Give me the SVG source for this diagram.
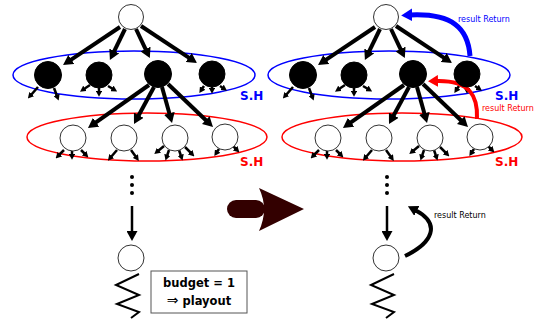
<svg xmlns="http://www.w3.org/2000/svg" width="534" height="327" viewBox="0 0 534 327">
<style>
.ell-b{fill:none;stroke:#0000ff;stroke-width:1.5}
.ell-r{fill:none;stroke:#ff0000;stroke-width:1.5}
.thick{stroke:#000;stroke-width:4;fill:none;marker-end:url(#ah)}
.thin{stroke:#000;stroke-width:2.5;fill:none;marker-end:url(#ahs)}
.wnode{fill:#fff;stroke:#333;stroke-width:1}
.bnode{fill:#000;stroke:#000;stroke-width:1}
.sh{font-family:"DejaVu Sans",Verdana,sans-serif;font-weight:bold;font-size:12px}
.rr{font-family:"DejaVu Sans",Verdana,sans-serif;font-size:8px}
.lbl{font-family:"DejaVu Sans",Verdana,sans-serif;font-weight:bold;font-size:11.5px;text-anchor:middle}
.zig{fill:none;stroke:#000;stroke-width:2}
</style>
<defs>
<marker id="ah" viewBox="0 0 10 10" refX="2" refY="5" markerWidth="10" markerHeight="11" markerUnits="userSpaceOnUse" orient="auto" preserveAspectRatio="none"><path d="M0,0 L10,5 L0,10 z" fill="#000"/></marker>
<marker id="ahs" viewBox="0 0 10 10" refX="2" refY="5" markerWidth="6" markerHeight="6.5" markerUnits="userSpaceOnUse" orient="auto" preserveAspectRatio="none"><path d="M0,0 L10,5 L0,10 z" fill="#000"/></marker>
<marker id="ahb" viewBox="0 0 10 10" refX="2" refY="5" markerWidth="11" markerHeight="13" markerUnits="userSpaceOnUse" orient="auto" preserveAspectRatio="none"><path d="M0,0 L10,5 L0,10 z" fill="#0000ff"/></marker>
<marker id="ahr" viewBox="0 0 10 10" refX="2" refY="5" markerWidth="10" markerHeight="12" markerUnits="userSpaceOnUse" orient="auto" preserveAspectRatio="none"><path d="M0,0 L10,5 L0,10 z" fill="#ff0000"/></marker>
</defs>

<g id="groups">
<ellipse class="ell-b" cx="134" cy="75" rx="121" ry="24"/>
<ellipse class="ell-r" cx="147" cy="137" rx="120" ry="24"/>
<ellipse class="ell-b" cx="389" cy="75" rx="121" ry="24"/>
<ellipse class="ell-r" cx="402" cy="137" rx="120" ry="24"/>
</g>

<g id="connectors">
<g id="conn-left">
<path class="thick" d="M120,27 L69.7,60.6"/>
<path class="thick" d="M125,29 L113.4,52.8"/>
<path class="thick" d="M136,29 L146.4,50.8"/>
<path class="thick" d="M141,26 L190.3,58.6"/>
<path class="thick" d="M149,85 L94.5,123.4"/>
<path class="thick" d="M154,87 L137.8,117"/>
<path class="thick" d="M162,87 L169.9,115.3"/>
<path class="thick" d="M168,84 L207.2,121.5"/>
<path class="thin" d="M38,87 L31,95"/>
<path class="thin" d="M54,88 L57,96"/>
<path class="thin" d="M90,85 L84,89"/>
<path class="thin" d="M99,88 L99,92"/>
<path class="thin" d="M108,86 L113,89"/>
<path class="thin" d="M204,86 L202,89"/>
<path class="thin" d="M212,87 L212,89"/>
<path class="thin" d="M220,86 L223,88"/>
<path class="thin" d="M64,150 L59,155"/>
<path class="thin" d="M72,151 L72,155"/>
<path class="thin" d="M81,150 L85,154"/>
<path class="thin" d="M117,150 L111,157"/>
<path class="thin" d="M131,150 L136,157"/>
<path class="thin" d="M164,146 L158,151"/>
<path class="thin" d="M169,150 L167,156"/>
<path class="thin" d="M179,150 L181,156"/>
<path class="thin" d="M185,147 L191,153"/>
<path class="thin" d="M219,149 L217,152"/>
<path class="thin" d="M233,146 L236,149"/>
<circle cx="132" cy="177" r="2"/>
<circle cx="132" cy="185" r="2"/>
<circle cx="132" cy="193" r="2"/>
<path d="M132,206 L132,233" stroke="#000" stroke-width="2.5" fill="none" marker-end="url(#ah)"/>
<path class="zig" d="M139,274 L116,285 L139,295 L117,304 L139,312 L131,318"/>
</g>
<g id="conn-right" transform="translate(255,0)">
<path class="thick" d="M120,27 L69.7,60.6"/>
<path class="thick" d="M125,29 L113.4,52.8"/>
<path class="thick" d="M136,29 L146.4,50.8"/>
<path class="thick" d="M141,26 L190.3,58.6"/>
<path class="thick" d="M149,85 L94.5,123.4"/>
<path class="thick" d="M154,87 L137.8,117"/>
<path class="thick" d="M162,87 L169.9,115.3"/>
<path class="thick" d="M168,84 L207.2,121.5"/>
<path class="thin" d="M38,87 L31,95"/>
<path class="thin" d="M54,88 L57,96"/>
<path class="thin" d="M90,85 L84,89"/>
<path class="thin" d="M99,88 L99,92"/>
<path class="thin" d="M108,86 L113,89"/>
<path class="thin" d="M204,86 L202,89"/>
<path class="thin" d="M212,87 L212,89"/>
<path class="thin" d="M220,86 L223,88"/>
<path class="thin" d="M64,150 L59,155"/>
<path class="thin" d="M72,151 L72,155"/>
<path class="thin" d="M81,150 L85,154"/>
<path class="thin" d="M117,150 L111,157"/>
<path class="thin" d="M131,150 L136,157"/>
<path class="thin" d="M164,146 L158,151"/>
<path class="thin" d="M169,150 L167,156"/>
<path class="thin" d="M179,150 L181,156"/>
<path class="thin" d="M185,147 L191,153"/>
<path class="thin" d="M219,149 L217,152"/>
<path class="thin" d="M233,146 L236,149"/>
<circle cx="132" cy="177" r="2"/>
<circle cx="132" cy="185" r="2"/>
<circle cx="132" cy="193" r="2"/>
<path d="M132,206 L132,233" stroke="#000" stroke-width="2.5" fill="none" marker-end="url(#ah)"/>
<path class="zig" d="M139,274 L116,285 L139,295 L117,304 L139,312 L131,318"/>
</g>
<path id="ret-blue" d="M470,56 C468,28 452,13 410,15" stroke="#0000ff" stroke-width="5" fill="none" marker-end="url(#ahb)"/>
<path id="ret-red" d="M477,119 C478,96 470,80 436,81" stroke="#ff0000" stroke-width="4" fill="none" marker-end="url(#ahr)"/>
<path id="ret-black" d="M405,256 C432,243 442,224 415,210" stroke="#000" stroke-width="4" fill="none" marker-end="url(#ah)"/>
</g>

<g id="nodes-left">
<g id="L-root"><circle class="wnode" cx="131" cy="17" r="12.5"/></g>
<g id="L-b1"><circle class="bnode" cx="48" cy="75" r="13.5"/></g>
<g id="L-b2"><circle class="bnode" cx="99" cy="75" r="13"/></g>
<g id="L-b3"><circle class="bnode" cx="158" cy="74" r="13.5"/></g>
<g id="L-b4"><circle class="bnode" cx="212" cy="74" r="13"/></g>
<g id="L-w1"><circle class="wnode" cx="73" cy="138" r="13"/></g>
<g id="L-w2"><circle class="wnode" cx="124" cy="138" r="13"/></g>
<g id="L-w3"><circle class="wnode" cx="175" cy="138" r="13"/></g>
<g id="L-w4"><circle class="wnode" cx="225" cy="137" r="13"/></g>
<g id="L-leaf"><circle class="wnode" cx="131" cy="258" r="13"/></g>
</g>
<g id="nodes-right" transform="translate(255,0)">
<g id="R-root"><circle class="wnode" cx="131" cy="17" r="12.5"/></g>
<g id="R-b1"><circle class="bnode" cx="48" cy="75" r="13.5"/></g>
<g id="R-b2"><circle class="bnode" cx="99" cy="75" r="13"/></g>
<g id="R-b3"><circle class="bnode" cx="158" cy="74" r="13.5"/></g>
<g id="R-b4"><circle class="bnode" cx="212" cy="74" r="13"/></g>
<g id="R-w1"><circle class="wnode" cx="73" cy="138" r="13"/></g>
<g id="R-w2"><circle class="wnode" cx="124" cy="138" r="13"/></g>
<g id="R-w3"><circle class="wnode" cx="175" cy="138" r="13"/></g>
<g id="R-w4"><circle class="wnode" cx="225" cy="137" r="13"/></g>
<g id="R-leaf"><circle class="wnode" cx="131" cy="258" r="13"/></g>
</g>

<g id="labels">
<text class="sh" x="240" y="100" fill="#0000ff">S.H</text>
<text class="sh" x="240" y="166" fill="#ff0000">S.H</text>
<text class="sh" x="495" y="100" fill="#0000ff">S.H</text>
<text class="sh" x="495" y="166" fill="#ff0000">S.H</text>
<text class="rr" x="458" y="22" fill="#0000ff">result Return</text>
<text class="rr" x="482" y="111" fill="#ff0000">result Return</text>
<text class="rr" x="434" y="218" fill="#000">result Return</text>
</g>

<g id="budget-box">
<rect x="151" y="271" width="96" height="42" fill="#fff" stroke="#555" stroke-width="1"/>
<text class="lbl" x="199" y="287">budget = 1</text>
<text class="lbl" x="199" y="305"><tspan font-family="'DejaVu Sans', sans-serif" font-weight="normal" font-size="14px">⇒</tspan> playout</text>
</g>

<g id="big-arrow" fill="#330000">
<rect x="227" y="200" width="38" height="18" rx="9"/>
<path d="M259,188 L304,209 L259,231 Q269,209 259,188 z"/>
</g>
</svg>
